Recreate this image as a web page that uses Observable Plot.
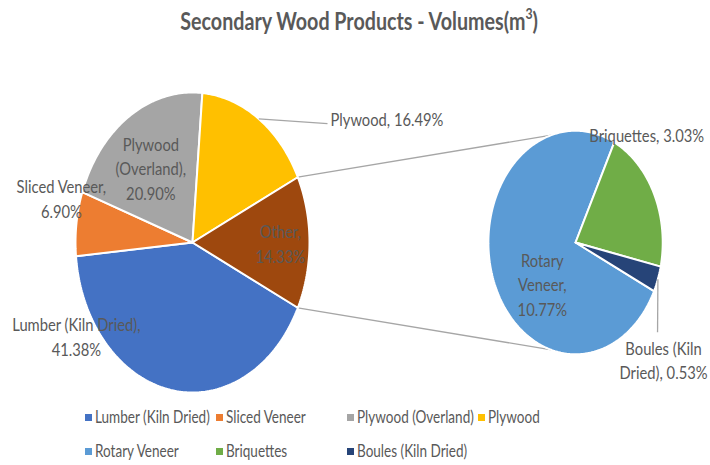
<!DOCTYPE html>
<html><head><meta charset="utf-8">
<script src="https://cdn.jsdelivr.net/npm/d3@7"></script>
<script src="https://cdn.jsdelivr.net/npm/@observablehq/plot@0.6"></script>
<style>
body{margin:0;background:#fff;font-family:Lato,"Open Sans",sans-serif;color:#595959;}
#wrap{width:710px;height:465px;position:relative;overflow:hidden;}
#title{height:44px;line-height:42px;text-align:center;font-weight:bold;font-size:24px;}
#title .t{display:inline-block;transform:scaleX(0.82);transform-origin:center;position:relative;left:4px;}
#title .sup{font-size:15px;vertical-align:top;position:relative;top:-8px;}
#legend{display:grid;grid-template-columns:repeat(4,131px);grid-auto-rows:34px;padding-left:85px;font-size:16.5px;}
.item{display:flex;align-items:center;white-space:nowrap;}
.sw{width:7px;height:7px;margin-right:3px;flex:none;}
.lt{display:inline-block;transform:scaleX(0.82);transform-origin:left center;}
</style></head><body>
<div id="wrap">
<div id="title"><span class="t">Secondary Wood Products - Volumes(m<span class="sup">3</span>)</span></div>
<div id="chart"></div>
<div id="legend"></div>
</div>
<script>
// ---- data ----
const mainCategories = ["Lumber (Kiln Dried)", "Sliced Veneer", "Plywood (Overland)", "Plywood", "Other"];
const mainShares = [41.38, 6.90, 20.90, 16.49, 14.33];
const subCategories = ["Rotary Veneer", "Briquettes", "Boules (Kiln Dried)"];
const subShares = [10.77, 3.03, 0.53];
const legendCategories = ["Lumber (Kiln Dried)", "Sliced Veneer", "Plywood (Overland)", "Plywood", "Rotary Veneer", "Briquettes", "Boules (Kiln Dried)"];
const palette = ["#4472C4", "#ED7D31", "#A5A5A5", "#FFC000", "#9E480E", "#5B9BD5", "#70AD47", "#264478"];

// ---- layout ----
const TEXT_SQUISH = 0.82;
const colorDomain = [...mainCategories, ...subCategories];
const SUB_CX = 3.274, SUB_R = 0.745;
const otherDeg = mainShares[4] / d3.sum(mainShares) * 360;
const startDeg = 90 + otherDeg / 2;

function slices(cats, shares, start, cx, r) {
  const total = d3.sum(shares);
  let a = start;
  return cats.map((c, i) => {
    const span = shares[i] / total * 360;
    const s = {name: c, value: shares[i], a0: a, a1: a + span, mid: a + span / 2, cx, r};
    a += span;
    return s;
  });
}
const mainSlices = slices(mainCategories, mainShares, startDeg, 0, 1);
const subSlices = slices(subCategories, subShares, startDeg, SUB_CX, SUB_R);
const allSlices = [...mainSlices, ...subSlices];

function polar(s, deg, k) {
  const t = deg * Math.PI / 180;
  return {x: s.cx + s.r * k * Math.sin(t), y: s.r * k * Math.cos(t)};
}
function outline(s) {
  const pts = [{name: s.name, ...polar(s, 0, 0)}];
  const n = Math.max(2, Math.ceil(s.a1 - s.a0));
  for (let i = 0; i <= n; i++) pts.push({name: s.name, ...polar(s, s.a0 + (s.a1 - s.a0) * i / n, 1)});
  pts.push({name: s.name, ...polar(s, 0, 0)});
  return pts;
}
const pieRows = allSlices.flatMap(outline);

const labelLayout = {
  "Lumber (Kiln Dried)": {angle: 238, k: 1.17, wrap: "Lumber (Kiln Dried)", sep: "\n"},
  "Sliced Veneer": {angle: 285, k: 1.16, wrap: "Sliced Veneer", sep: "\n"},
  "Plywood (Overland)": {k: 0.61, dx: -3, dy: 2, wrap: "Plywood\n(Overland)", sep: "\n"},
  "Plywood": {angle: 55.5, k: 1.40, dx: 3, dy: -5, anchor: "start", wrap: "Plywood", sep: " ", leader: true},
  "Other": {k: 0.75, wrap: "Other", sep: "\n"},
  "Rotary Veneer": {angle: 226, k: 0.53, wrap: "Rotary\nVeneer", sep: "\n"},
  "Briquettes": {angle: 40, k: 1.27, wrap: "Briquettes", sep: " "},
  "Boules (Kiln Dried)": {angle: 130.5, k: 1.237, dx: 6, dy: 27, wrap: "Boules (Kiln\nDried)", sep: " ", leader: true}
};
const labels = allSlices.map(s => {
  const L = labelLayout[s.name];
  const p = polar(s, L.angle ?? s.mid, L.k);
  return {...p, text: `${L.wrap},${L.sep}${s.value.toFixed(2)}%`, L, s};
});
const leaders = labels.filter(d => d.L.leader).map(d => {
  const e = polar(d.s, d.s.mid, 1);
  return {x1: e.x, y1: e.y, x2: d.x, y2: d.y};
});
const other = mainSlices[4];
const subRef = subSlices[0];
const connectors = [
  {from: polar(other, other.a0, 1), to: polar(subRef, 344, 1)},
  {from: polar(other, other.a1, 1), to: polar(subRef, 196, 1)}
].map(c => ({x1: c.from.x, y1: c.from.y, x2: c.to.x, y2: c.to.y}));

const chart = Plot.plot({
  width: 710,
  height: 356,
  margin: 0,
  x: {domain: [-1, 1], range: [75, 309], axis: null},
  y: {domain: [-1, 1], range: [348, 48], axis: null},
  color: {domain: colorDomain, range: palette},
  style: {fontFamily: 'Lato,"Open Sans",sans-serif', background: "white", overflow: "visible"},
  marks: [
    Plot.link(connectors, {x1: "x1", y1: "y1", x2: "x2", y2: "y2", stroke: "#A6A6A6", strokeWidth: 1.3}),
    Plot.line(pieRows, {x: "x", y: "y", z: "name", fill: "name", stroke: "white", strokeWidth: 2, curve: "linear", strokeLinejoin: "miter"}),
    Plot.link(leaders, {x1: "x1", y1: "y1", x2: "x2", y2: "y2", stroke: "#A6A6A6", strokeWidth: 1.3}),
    ...labels.map(d => Plot.text([d], {
      x: "x", y: "y", text: "text",
      dx: d.L.dx ?? 0, dy: d.L.dy ?? 0,
      textAnchor: d.L.anchor ?? "middle",
      fill: "#595959", fontSize: 18, lineHeight: 1.36
    }))
  ]
});
// horizontal squish of label glyphs, as in the stretched original
chart.querySelectorAll("text").forEach(t => {
  const tr = t.getAttribute("transform") || "";
  t.setAttribute("transform", `${tr} scale(${TEXT_SQUISH},1)`);
});
document.getElementById("chart").appendChild(chart);

const color = d3.scaleOrdinal(colorDomain, palette);
const legend = d3.select("#legend");
legendCategories.forEach(c => {
  const it = legend.append("div").attr("class", "item");
  it.append("span").attr("class", "sw").style("background", color(c));
  it.append("span").attr("class", "lt").text(c);
});
</script>
</body></html>
